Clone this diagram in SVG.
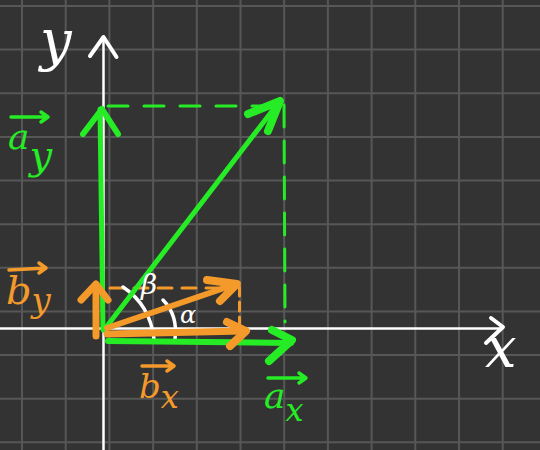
<svg xmlns="http://www.w3.org/2000/svg" width="540" height="450" viewBox="0 0 540 450">
<style>
.grid{stroke:#575757;stroke-width:2;fill:none}
.axis{stroke:#ffffff;stroke-width:2.5;fill:none;stroke-linecap:round;stroke-linejoin:round}
.axhead{stroke:#ffffff;stroke-width:4;fill:none;stroke-linecap:round;stroke-linejoin:round}
.g{stroke:#26ec26;fill:none;stroke-linecap:round;stroke-linejoin:round}
.o{stroke:#f39a2b;fill:none;stroke-linecap:round;stroke-linejoin:round}
.w{stroke:#ffffff;fill:none;stroke-linecap:round}
.lbl{font-family:"DejaVu Serif","Liberation Serif",serif;font-style:italic}
.tg{fill:#26ec26}
.to{fill:#f39a2b}
.tw{fill:#ffffff}
</style>
<rect width="540" height="450" fill="#333333"/>
<path class="grid" d="M22 0V450M65.7 0V450M109.4 0V450M153.1 0V450M196.8 0V450M240.5 0V450M284.2 0V450M327.9 0V450M371.6 0V450M415.3 0V450M459 0V450M502.7 0V450M0 6H540M0 49.6H540M0 93.3H540M0 136.9H540M0 180.5H540M0 224.2H540M0 267.8H540M0 311.4H540M0 355H540M0 398.7H540M0 442.3H540"/>
<g id="axes">
<path class="axis" d="M103.5 450V37"/>
<path class="axhead" d="M90 56L103.5 37L116.5 57"/>
<path class="axis" d="M0 328.5H502"/>
<path class="axhead" d="M491 318L503 327L486 343"/>
</g>
<g id="connectors">
<path class="g" stroke-width="3" stroke-dasharray="20 16" d="M108 106H278"/>
<path class="g" stroke-width="3" stroke-dasharray="22 14" d="M284 105L285 322"/>
<path class="o" stroke-width="3" stroke-dasharray="14 10" d="M110 288H232"/>
<path class="o" stroke-width="3" stroke-dasharray="9 6" d="M239.5 287V327"/>
<path class="w" stroke-width="3.5" d="M123 287Q150 305 154 339"/>
<path class="w" stroke-width="3.5" d="M163 300Q178 315 175 339"/>
</g>
<g id="vec-ay">
<path class="g" stroke-width="5" d="M103 330L100 109"/>
<path class="g" stroke-width="6" d="M83 134L102 109L118 134"/>
</g>
<g id="vec-a">
<path class="g" stroke-width="5" d="M104 330L279 102"/>
<path class="g" stroke-width="8" d="M248 114L280 101L268 131"/>
</g>
<g id="vec-ax">
<path class="g" stroke-width="6" d="M108 341L291 343"/>
<path class="g" stroke-width="8" d="M272 330L292 340L269 361"/>
</g>
<g id="vec-by">
<path class="o" stroke-width="7" d="M96 336L96 285"/>
<path class="o" stroke-width="7" d="M81 300L96 284L108 300"/>
</g>
<g id="vec-b">
<path class="o" stroke-width="6" d="M107 328L236 284"/>
<path class="o" stroke-width="8" d="M207 280L237 284L220 301"/>
</g>
<g id="vec-bx">
<path class="o" stroke-width="7" d="M107 334L244 331"/>
<path class="o" stroke-width="8" d="M227 322L246 331L230 346"/>
</g>
<g id="label-y">
<text class="lbl tw" x="40" y="60" font-size="56">y</text>
</g>
<g id="label-x">
<text class="lbl tw" x="485" y="367" font-size="56">x</text>
</g>
<g id="label-ay">
<path class="g" stroke-width="3.5" d="M11 117H48M41 112L48 117L41 122"/>
<text class="lbl tg" x="8" y="149" font-size="36">a<tspan font-size="40" dy="20">y</tspan></text>
</g>
<g id="label-by">
<path class="o" stroke-width="3.5" d="M9 270L46 268M39 263L46 268L39 273"/>
<text class="lbl to" x="6" y="304" font-size="40">b<tspan font-size="34" dy="8">y</tspan></text>
</g>
<g id="label-bx">
<path class="o" stroke-width="3.5" d="M142 366H174M167 361L174 366L167 371"/>
<text class="lbl to" x="139" y="398" font-size="34">b<tspan font-size="32" dy="10">x</tspan></text>
</g>
<g id="label-ax">
<path class="g" stroke-width="3.5" d="M268 378H306M299 373L306 378L299 383"/>
<text class="lbl tg" x="264" y="408" font-size="36">a<tspan font-size="32" dy="13">x</tspan></text>
</g>
<g id="label-beta">
<text class="lbl tw" x="141" y="294" font-size="28">β</text>
</g>
<g id="label-alpha">
<text class="lbl tw" x="180" y="323" font-size="24">α</text>
</g>
</svg>
